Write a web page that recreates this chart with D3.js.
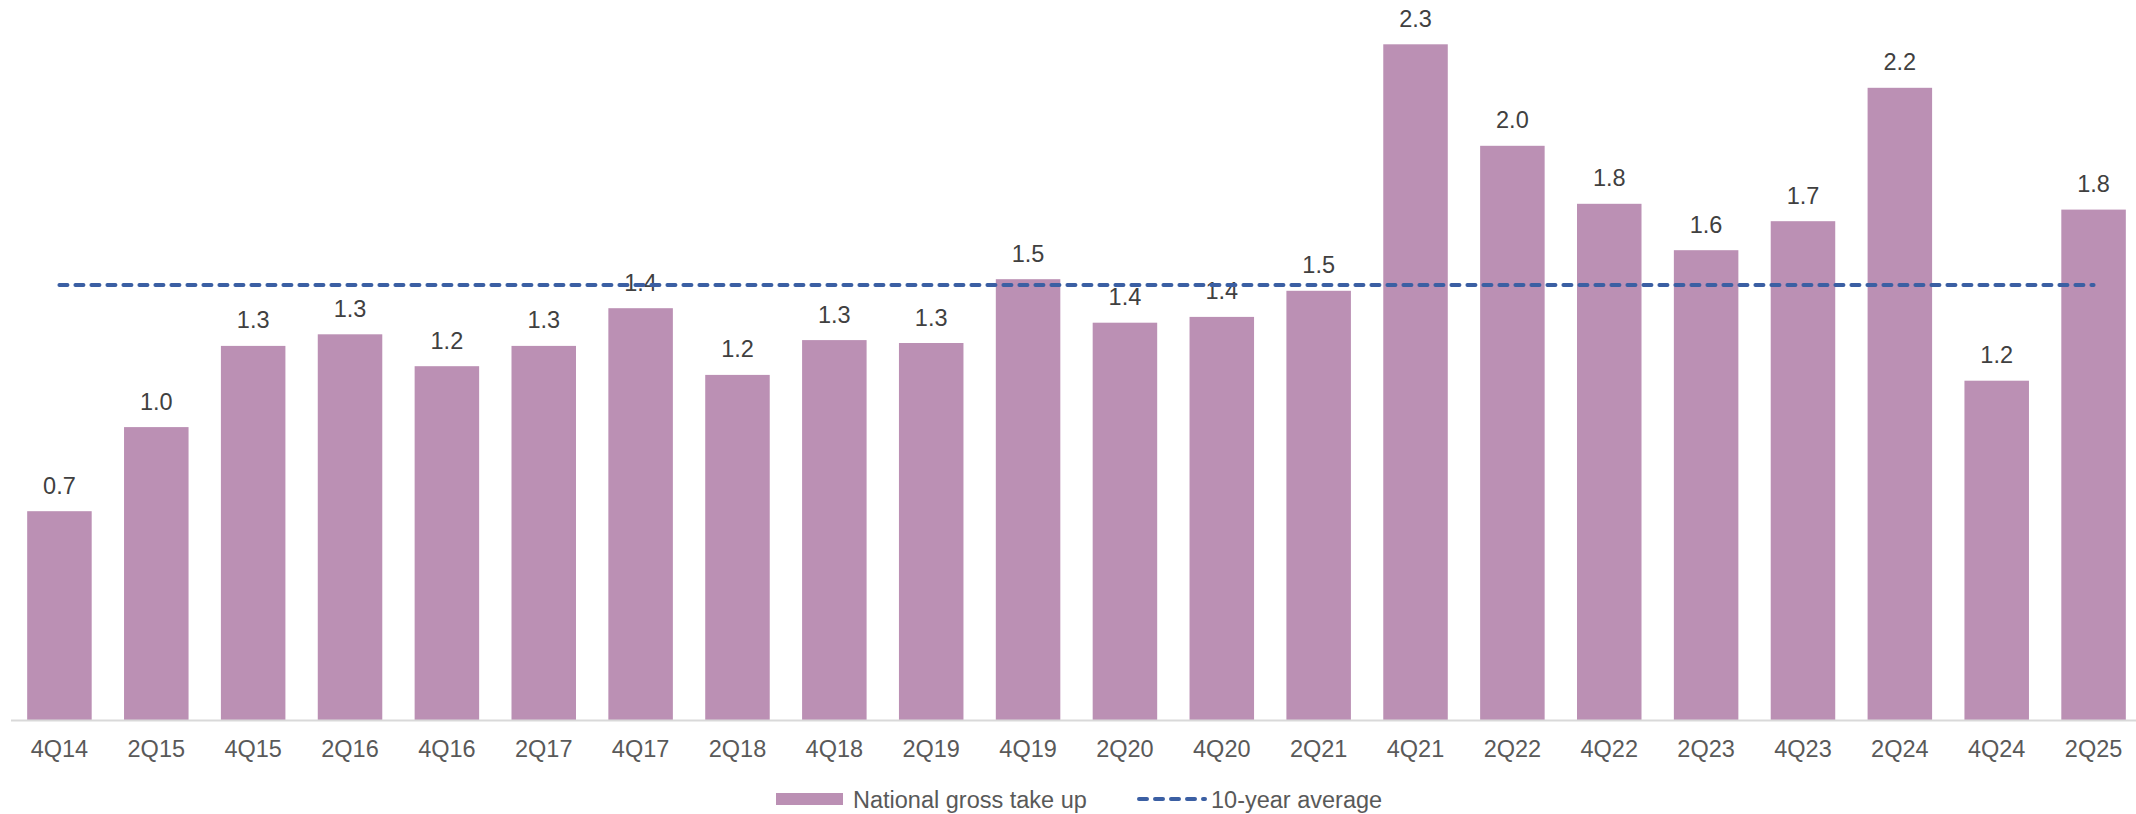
<!DOCTYPE html>
<html>
<head>
<meta charset="utf-8">
<script src="https://cdn.jsdelivr.net/npm/d3@7"></script>
<style>
  html, body { margin: 0; padding: 0; background: #fff; }
  svg { display: block; font-family: Arial, "Liberation Sans", sans-serif; }
</style>
</head>
<body>
<svg id="chart" width="2136" height="814"></svg>
<script>
// Half-year periods
const periods = ["4Q14","2Q15","4Q15","2Q16","4Q16","2Q17","4Q17","2Q18","4Q18","2Q19","4Q19",
                 "2Q20","4Q20","2Q21","4Q21","2Q22","4Q22","2Q23","4Q23","2Q24","4Q24","2Q25"];
// National gross take up per period
const takeUp = [0.72, 1.01, 1.29, 1.33, 1.22, 1.29, 1.42, 1.19, 1.31, 1.30, 1.52,
                1.37, 1.39, 1.48, 2.33, 1.98, 1.78, 1.62, 1.72, 2.18, 1.17, 1.76];
// 10-year average of take up
const tenYearAverage = 1.50;
const legendItems = ["National gross take up", "10-year average"];

const barColor = "#bb90b4";
const avgColor = "#3b5fa3";

const svg = d3.select("#chart");
const W = 2136;

const x = d3.scaleBand()
  .domain(periods)
  .range([11, 2142])
  .paddingInner(0.334)
  .paddingOuter(0.167);

const y = d3.scaleLinear()
  .domain([0, 2.5])
  .range([720, 720 - 2.5 * 290]);

// Bars
svg.append("g")
  .selectAll("rect")
  .data(periods)
  .join("rect")
  .attr("x", d => x(d))
  .attr("y", (d, i) => y(takeUp[i]))
  .attr("width", x.bandwidth())
  .attr("height", (d, i) => y(0) - y(takeUp[i]))
  .attr("fill", barColor);

// Category axis
const xAxis = svg.append("g")
  .attr("transform", `translate(0,${y(0)})`)
  .call(d3.axisBottom(x).tickSize(0).tickPadding(20));
xAxis.select(".domain").remove();
xAxis.selectAll("text")
  .attr("font-size", 23.5)
  .attr("fill", "#595959")
  .attr("font-family", "Arial, 'Liberation Sans', sans-serif");
svg.append("line")
  .attr("x1", 11).attr("x2", W)
  .attr("y1", y(0) + 0.5).attr("y2", y(0) + 0.5)
  .attr("stroke", "#d9d9d9").attr("stroke-width", 2);

// Value labels
const fmt = d3.format(".1f");
svg.append("g")
  .selectAll("text")
  .data(periods)
  .join("text")
  .attr("x", d => x(d) + x.bandwidth() / 2)
  .attr("y", (d, i) => y(takeUp[i]) - 17.5)
  .attr("text-anchor", "middle")
  .attr("font-size", 23.5)
  .attr("fill", "#404040")
  .text((d, i) => fmt(takeUp[i]));

// 10-year average line
const cx0 = x(periods[0]) + x.bandwidth() / 2;
const cx1 = x(periods[periods.length - 1]) + x.bandwidth() / 2;
svg.append("line")
  .attr("x1", cx0).attr("x2", cx1)
  .attr("y1", y(tenYearAverage)).attr("y2", y(tenYearAverage))
  .attr("stroke", avgColor)
  .attr("stroke-width", 4)
  .attr("stroke-linecap", "round")
  .attr("stroke-dasharray", "8,8");

// Legend
const legend = svg.append("g").attr("font-size", 23.5).attr("fill", "#595959");
legend.append("rect")
  .attr("x", 776).attr("y", 793).attr("width", 67).attr("height", 12)
  .attr("fill", barColor);
legend.append("text")
  .attr("x", 853).attr("y", 807.5)
  .text(legendItems[0]);
legend.append("line")
  .attr("x1", 1139).attr("x2", 1205)
  .attr("y1", 799).attr("y2", 799)
  .attr("stroke", avgColor)
  .attr("stroke-width", 4)
  .attr("stroke-linecap", "round")
  .attr("stroke-dasharray", "8,8");
legend.append("text")
  .attr("x", 1211).attr("y", 807.5)
  .text(legendItems[1]);
</script>
</body>
</html>
